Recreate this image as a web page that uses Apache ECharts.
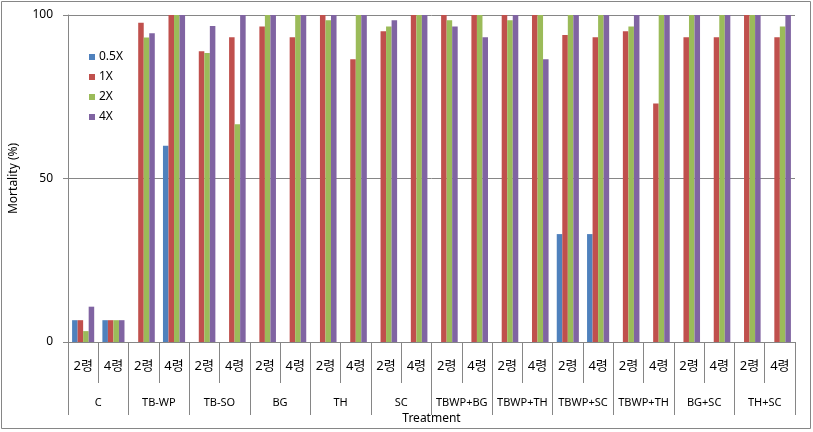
<!DOCTYPE html>
<html>
<head>
<meta charset="utf-8">
<script src="https://cdn.jsdelivr.net/npm/echarts@6/dist/echarts.min.js"></script>
<style>
html,body{margin:0;padding:0;background:#fff;}
#chart{width:813px;height:432px;}
</style>
</head>
<body>
<div id="chart"></div>
<script>
const groups = ['C','TB-WP','TB-SO','BG','TH','SC','TBWP+BG','TBWP+TH','TBWP+SC','TBWP+TH','BG+SC','TH+SC'];
const stages = ['2령','4령'];
const seriesNames = ['0.5X','1X','2X','4X'];
const s05 = [6.67,6.67, 0,60, 0,0, 0,0, 0,0, 0,0, 0,0, 0,0, 33,33, 0,0, 0,0, 0,0];
const s1  = [6.67,6.67, 97.6,100, 88.9,93.2, 96.5,93.2, 100,86.5, 95,100, 100,100, 100,100, 93.9,93.2, 95,72.9, 93.2,93.2, 100,93.2];
const s2  = [3.33,6.67, 93.1,100, 88.4,66.6, 100,100, 98.4,100, 96.5,100, 98.4,100, 98.4,100, 100,100, 96.5,100, 100,100, 100,96.5];
const s4  = [10.8,6.67, 94.4,100, 96.6,100, 100,100, 100,100, 98.4,100, 96.5,93.2, 100,86.5, 100,100, 100,100, 100,100, 100,100];
const yTicks = [0,50,100];

const subCats = [];
groups.forEach(() => stages.forEach(s => subCats.push(s)));
const colors = ['#4F81BD','#C0504D','#9BBB59','#8064A2'];
const values = [s05, s1, s2, s4];
const gray = '#868686';
const font = '"Noto Sans","Noto Sans CJK KR",sans-serif';

const chart = echarts.init(document.getElementById('chart'), null, {renderer:'canvas'});
chart.setOption({
  animation: false,
  textStyle: {fontFamily: font},
  graphic: [{
    type: 'rect', z: -10,
    shape: {x: 1.5, y: 1.5, width: 809, height: 427},
    style: {fill: 'none', stroke: gray, lineWidth: 1}
  }],
  legend: {
    orient: 'vertical', left: 84, top: 46,
    itemWidth: 6, itemHeight: 6, itemGap: 8,
    textStyle: {fontSize: 12, color: '#000', fontFamily: font, padding: [0,0,0,-1]},
    icon: 'rect',
    data: seriesNames
  },
  grid: {left: 68, right: 18, top: 15, bottom: 90},
  xAxis: [{
    type: 'category', data: subCats, position: 'bottom',
    axisLine: {show: true, lineStyle: {color: gray}},
    axisTick: {show: true, interval: 0, length: 41, lineStyle: {color: gray}},
    axisLabel: {interval: 0, margin: 18, fontSize: 13, color: '#000', fontFamily: font},
    z: 5
  }, {
    type: 'category', data: groups, position: 'bottom',
    axisLine: {show: false},
    axisTick: {show: true, interval: 0, length: 73, lineStyle: {color: gray}},
    axisLabel: {interval: 0, margin: 55, fontSize: 11, color: '#000', fontFamily: font},
    name: 'Treatment', nameLocation: 'middle', nameGap: 70,
    nameTextStyle: {fontSize: 12, color: '#000', fontFamily: font}
  }],
  yAxis: {
    type: 'value', min: yTicks[0], max: yTicks[yTicks.length-1], interval: 50,
    axisLine: {show: true, lineStyle: {color: gray}},
    axisTick: {show: true, inside: false, length: 5, lineStyle: {color: gray}},
    splitLine: {show: true, lineStyle: {color: gray, width: 1}},
    axisLabel: {margin: 15, fontSize: 12, color: '#000', fontFamily: font},
    name: 'Mortality (%)', nameLocation: 'middle', nameGap: 48, nameRotate: 90,
    nameTextStyle: {fontSize: 12, color: '#000', fontFamily: font}
  },
  series: seriesNames.map((n, i) => ({
    name: n, type: 'bar', xAxisIndex: 0, data: values[i],
    barGap: '0%', barCategoryGap: '27%',
    itemStyle: {color: colors[i]}
  }))
});
</script>
</body>
</html>
